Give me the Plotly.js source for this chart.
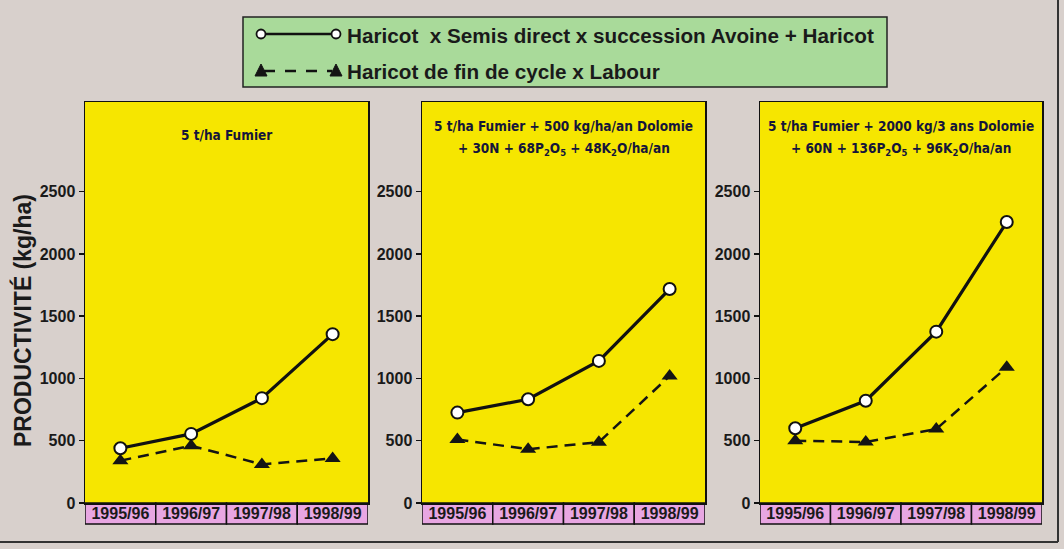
<!DOCTYPE html>
<html>
<head>
<meta charset="utf-8">
<script src="https://cdn.plot.ly/plotly-3.0.1.min.js"></script>
<style>html,body{margin:0;padding:0;background:#d8d0cc;}#chart{width:1064px;height:549px;}</style>
</head>
<body>
<div id="chart"></div>
<script>
// ---- data ----
const seasons = ['1995/96', '1996/97', '1997/98', '1998/99'];
const seriesNames = ['Haricot  x Semis direct x succession Avoine + Haricot', 'Haricot de fin de cycle x Labour'];
const panelTitles1 = ['5 t/ha Fumier', '5 t/ha Fumier + 500 kg/ha/an Dolomie', '5 t/ha Fumier + 2000 kg/3 ans Dolomie'];
const panelTitles2 = ['', '+ 30N + 68P<sub>2</sub>O<sub>5</sub> + 48K<sub>2</sub>O/ha/an', '+ 60N + 136P<sub>2</sub>O<sub>5</sub> + 96K<sub>2</sub>O/ha/an'];
const semisDirect1 = [440, 555, 842, 1356];
const labour1 = [340, 460, 310, 358];
const semisDirect2 = [726, 833, 1141, 1718];
const labour2 = [510, 432, 488, 1020];
const semisDirect3 = [600, 821, 1376, 2256];
const labour3 = [500, 490, 594, 1090];
const yTicks = [0, 500, 1000, 1500, 2000, 2500];
const yTitle = 'PRODUCTIVITÉ (kg/ha)';

// ---- layout helpers ----
const W = 1064, H = 549;
const px = x => x / W;
const py = y => 1 - y / H;
const panels = [[85, 368], [422, 705], [760, 1042]];
const plotTop = 102, plotBottom = 503, boxBottom = 524;
const txt = '#1a1a1a';
const arial = 'Arial, "Liberation Sans", sans-serif';

const semis = [semisDirect1, semisDirect2, semisDirect3];
const labour = [labour1, labour2, labour3];

const traces = [];
const layout = {
  width: W, height: H,
  margin: {l: 0, r: 0, t: 0, b: 0},
  paper_bgcolor: '#d8d0cc',
  plot_bgcolor: '#f6e600',
  showlegend: false,
  font: {family: arial, color: txt},
  shapes: [],
  annotations: []
};

panels.forEach((p, i) => {
  const n = i === 0 ? '' : String(i + 1);
  const xa = 'x' + n, ya = 'y' + n;
  traces.push({
    x: seasons, y: labour[i], xaxis: xa, yaxis: ya, type: 'scatter', mode: 'lines+markers',
    name: seriesNames[1], cliponaxis: false,
    line: {color: '#141414', width: 2.5, dash: '11px,7px'},
    marker: {symbol: 'triangle-up', size: 14, color: '#141414', line: {width: 0}}
  });
  traces.push({
    x: seasons, y: semis[i], xaxis: xa, yaxis: ya, type: 'scatter', mode: 'lines+markers',
    name: seriesNames[0], cliponaxis: false,
    line: {color: '#111', width: 3.2},
    marker: {symbol: 'circle', size: 12, color: '#ffffff', line: {color: '#111', width: 2}}
  });
  layout['xaxis' + n] = {
    domain: [px(p[0]), px(p[1])], anchor: ya, type: 'category',
    range: [-0.5, 3.5], showgrid: false, zeroline: false,
    tickvals: seasons, ticktext: seasons.map(s => '<b>' + s + '</b>'),
    showline: true, mirror: true, linecolor: '#111', linewidth: 1.5,
    ticks: '', tickfont: {size: 16, color: txt, family: arial},
    ticklabelstandoff: -5, fixedrange: true
  };
  layout['yaxis' + n] = {
    domain: [py(plotBottom), py(plotTop)], anchor: xa,
    range: [0, 3220], tickvals: yTicks, ticktext: yTicks.map(v => '<b>' + v + '</b>'),
    showgrid: false, zeroline: false,
    showline: true, mirror: true, linecolor: '#111', linewidth: 1.5,
    ticks: 'outside', ticklen: 5, tickwidth: 1.5, tickcolor: '#111',
    tickfont: {size: 16, color: txt, family: arial},
    fixedrange: true
  };
  // pink tick-label boxes
  seasons.forEach((s, k) => {
    layout.shapes.push({
      type: 'rect', layer: 'below', xref: xa, yref: 'paper',
      x0: k - 0.5, x1: k + 0.5, y0: py(boxBottom), y1: py(plotBottom),
      fillcolor: '#e8a6e2', line: {color: '#111', width: 1.5}
    });
  });
  // panel titles
  const cx = px((p[0] + p[1]) / 2);
  const tfont = {family: '"DejaVu Sans Condensed", Arial, sans-serif', size: 13.5, color: '#15153a'};
  if (panelTitles2[i]) {
    layout.annotations.push({xref: 'paper', yref: 'paper', x: cx, y: py(126), text: '<b>' + panelTitles1[i] + '</b>', showarrow: false, font: tfont, xanchor: 'center', yanchor: 'middle'});
    layout.annotations.push({xref: 'paper', yref: 'paper', x: cx, y: py(149), text: '<b>' + panelTitles2[i] + '</b>', showarrow: false, font: tfont, xanchor: 'center', yanchor: 'middle'});
  } else {
    layout.annotations.push({xref: 'paper', yref: 'paper', x: cx, y: py(135), text: '<b>' + panelTitles1[i] + '</b>', showarrow: false, font: tfont, xanchor: 'center', yanchor: 'middle'});
  }
});

// y-axis title
layout.annotations.push({
  xref: 'paper', yref: 'paper', x: px(22), y: py(321), text: '<b>' + yTitle + '</b>', textangle: -90,
  showarrow: false, xanchor: 'center', yanchor: 'middle',
  font: {size: 23, color: txt, family: arial}
});

// legend box (manual)
layout.shapes.push({type: 'rect', xref: 'paper', yref: 'paper', x0: px(243), x1: px(887), y0: py(87), y1: py(17),
  fillcolor: '#a9da9a', line: {color: '#222', width: 1.5}, layer: 'above'});
layout.shapes.push({type: 'line', xref: 'paper', yref: 'paper', x0: px(261), x1: px(336), y0: py(34), y1: py(34),
  line: {color: '#111', width: 2.5}, layer: 'above'});
[261, 336].forEach(x => {
  layout.shapes.push({type: 'circle', xref: 'paper', yref: 'paper', x0: px(x - 4.5), x1: px(x + 4.5), y0: py(38.5), y1: py(29.5),
    fillcolor: '#fff', line: {color: '#111', width: 1.8}, layer: 'above'});
});
layout.shapes.push({type: 'line', xref: 'paper', yref: 'paper', x0: px(264), x1: px(332), y0: py(71), y1: py(71),
  line: {color: '#111', width: 2.5, dash: '11px,10px'}, layer: 'above'});
[261, 336].forEach(x => {
  const path = 'M' + px(x) + ',' + py(64) + ' L' + px(x + 6) + ',' + py(76) + ' L' + px(x - 6) + ',' + py(76) + ' Z';
  layout.shapes.push({type: 'path', xref: 'paper', yref: 'paper', path: path, fillcolor: '#141414', line: {color: '#141414', width: 1}, layer: 'above'});
});
[[35, seriesNames[0]], [71, seriesNames[1]]].forEach(([y, t]) => {
  layout.annotations.push({xref: 'paper', yref: 'paper', x: px(345), y: py(y), text: '<b>' + t + '</b>', showarrow: false,
    xanchor: 'left', yanchor: 'middle', font: {size: 20.7, color: txt, family: arial}});
});

// outer frame
layout.shapes.push({type: 'line', xref: 'paper', yref: 'paper', x0: 0, x1: px(1058), y0: py(542), y1: py(542), line: {color: '#333', width: 2}});
layout.shapes.push({type: 'line', xref: 'paper', yref: 'paper', x0: px(1058), x1: px(1058), y0: py(0), y1: py(542), line: {color: '#333', width: 2}});

Plotly.newPlot('chart', traces, layout, {displayModeBar: false, staticPlot: true});
</script>
</body>
</html>
